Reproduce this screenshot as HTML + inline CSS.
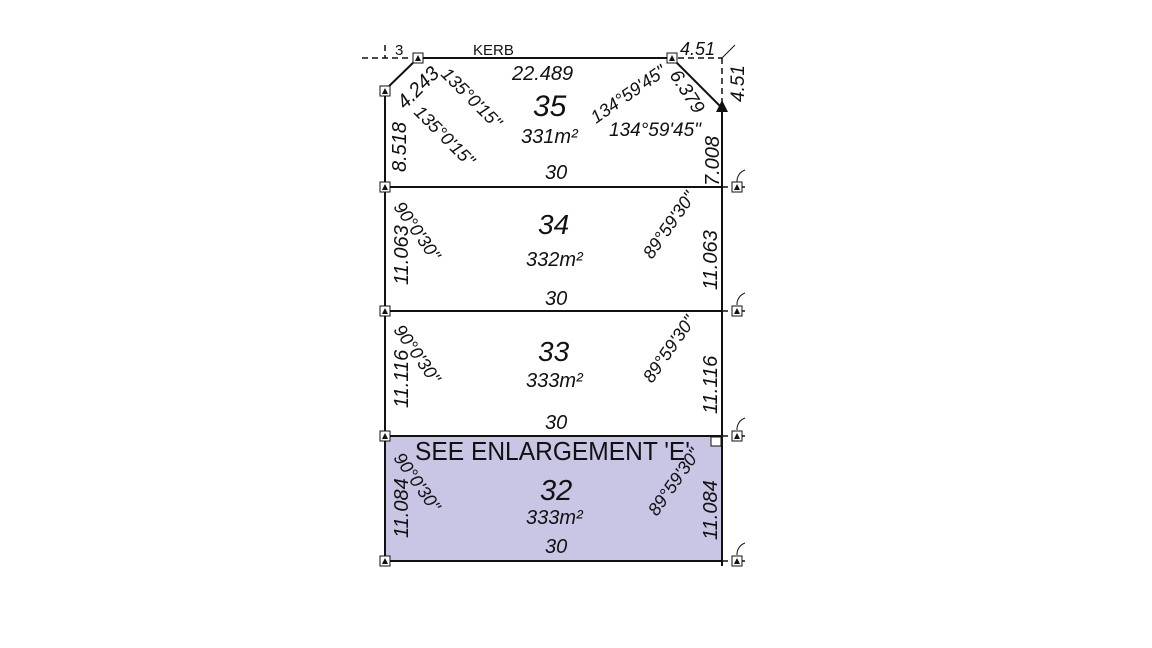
<!DOCTYPE html>
<html><head><meta charset="utf-8"><style>
body{margin:0;background:#fff}
svg{display:block}
text{font-family:"Liberation Sans",Arial,sans-serif;fill:#111}
.i{font-style:italic}
</style></head><body>
<svg width="1152" height="648" viewBox="0 0 1152 648" xmlns="http://www.w3.org/2000/svg">
<rect x="385" y="437" width="337" height="124" fill="#c9c5e5"/>
<g stroke="#111" stroke-width="2" fill="none">
<polyline points="418,58 672,58"/>
<polyline points="418,58 385,90 385,561"/>
<polyline points="672,58 722,108 722,566"/>
<line x1="385" y1="187" x2="722" y2="187"/>
<line x1="385" y1="311" x2="722" y2="311"/>
<line x1="385" y1="436" x2="722" y2="436"/>
<line x1="385" y1="561" x2="722" y2="561"/>
</g>
<g stroke="#111" stroke-width="1.5" stroke-dasharray="6,4" fill="none">
<line x1="362" y1="58" x2="412" y2="58"/>
<line x1="678" y1="58" x2="722" y2="58"/>
<line x1="722" y1="58" x2="722" y2="108"/>
<line x1="722" y1="187" x2="745" y2="187"/>
<line x1="722" y1="311" x2="745" y2="311"/>
<line x1="722" y1="436" x2="745" y2="436"/>
<line x1="722" y1="561" x2="745" y2="561"/>
<line x1="385" y1="45" x2="385" y2="58"/>
</g>
<line x1="722" y1="58" x2="735" y2="45" stroke="#111" stroke-width="1"/>
<polygon points="722,100 716,112 728,112" fill="#111"/>
<g fill="#fff" stroke="#111" stroke-width="1">
<rect x="413" y="53" width="10" height="10"/>
<rect x="667" y="53" width="10" height="10"/>
<rect x="380" y="86" width="10" height="10"/>
<rect x="380" y="182" width="10" height="10"/>
<rect x="380" y="306" width="10" height="10"/>
<rect x="380" y="431" width="10" height="10"/>
<rect x="380" y="556" width="10" height="10"/>
<rect x="732" y="182" width="10" height="10"/>
<rect x="732" y="306" width="10" height="10"/>
<rect x="732" y="431" width="10" height="10"/>
<rect x="732" y="556" width="10" height="10"/>
<rect x="711" y="437" width="10" height="9"/>
</g>
<g fill="#111">
<polygon points="418,55 415,61 421,61"/><polygon points="672,55 669,61 675,61"/>
<polygon points="385,88 382,94 388,94"/><polygon points="385,184 382,190 388,190"/>
<polygon points="385,308 382,314 388,314"/><polygon points="385,433 382,439 388,439"/>
<polygon points="385,558 382,564 388,564"/><polygon points="737,184 734,190 740,190"/>
<polygon points="737,308 734,314 740,314"/><polygon points="737,433 734,439 740,439"/>
<polygon points="737,558 734,564 740,564"/>
</g>
<g stroke="#111" stroke-width="1" fill="none">
<path d="M745,170 a12,12 0 0 0 -8,12"/><path d="M745,293 a12,12 0 0 0 -8,12"/>
<path d="M745,418 a12,12 0 0 0 -8,12"/><path d="M745,543 a12,12 0 0 0 -8,12"/>
</g>
<text x="473" y="55" font-size="15">KERB</text>
<text x="395" y="55" font-size="15">3</text>
<text x="680" y="55" font-size="18" class="i">4.51</text>
<text x="744" y="102" font-size="19" class="i" transform="rotate(-90 744 102)">4.51</text>
<text x="512" y="80" font-size="20" class="i">22.489</text>
<text x="533" y="116" font-size="30" class="i">35</text>
<text x="521" y="143" font-size="20" class="i">331m²</text>
<text x="545" y="179" font-size="20" class="i">30</text>
<text x="405" y="110" font-size="20" class="i" transform="rotate(-45 405 110)">4.243</text>
<text x="440" y="75" font-size="18" class="i" transform="rotate(45 440 75)">135°0'15"</text>
<text x="413" y="113" font-size="18" class="i" transform="rotate(45 413 113)">135°0'15"</text>
<text x="406" y="172" font-size="20" class="i" transform="rotate(-90 406 172)">8.518</text>
<text x="596" y="124" font-size="18" class="i" transform="rotate(-35 596 124)">134°59'45"</text>
<text x="609" y="136" font-size="19" class="i">134°59'45"</text>
<text x="669" y="75" font-size="19" class="i" transform="rotate(57 669 75)">6.379</text>
<text x="719" y="186" font-size="20" class="i" transform="rotate(-90 719 186)">7.008</text>
<text x="538" y="234" font-size="28" class="i">34</text>
<text x="526" y="266" font-size="20" class="i">332m²</text>
<text x="545" y="305" font-size="20" class="i">30</text>
<text x="393" y="207" font-size="18" class="i" transform="rotate(55 393 207)">90°0'30"</text>
<text x="652" y="260" font-size="18" class="i" transform="rotate(-55 652 260)">89°59'30"</text>
<text x="408" y="285" font-size="20" class="i" transform="rotate(-90 408 285)">11.063</text>
<text x="717" y="290" font-size="20" class="i" transform="rotate(-90 717 290)">11.063</text>
<text x="538" y="361" font-size="28" class="i">33</text>
<text x="526" y="387" font-size="20" class="i">333m²</text>
<text x="545" y="429" font-size="20" class="i">30</text>
<text x="393" y="330" font-size="18" class="i" transform="rotate(55 393 330)">90°0'30"</text>
<text x="652" y="384" font-size="18" class="i" transform="rotate(-55 652 384)">89°59'30"</text>
<text x="408" y="408" font-size="20" class="i" transform="rotate(-90 408 408)">11.116</text>
<text x="717" y="414" font-size="20" class="i" transform="rotate(-90 717 414)">11.116</text>
<text x="415" y="460" font-size="26" textLength="275" lengthAdjust="spacingAndGlyphs">SEE ENLARGEMENT 'E'</text>
<text x="540" y="500" font-size="29" class="i">32</text>
<text x="526" y="524" font-size="20" class="i">333m²</text>
<text x="545" y="553" font-size="20" class="i">30</text>
<text x="393" y="458" font-size="18" class="i" transform="rotate(55 393 458)">90°0'30"</text>
<text x="657" y="517" font-size="18" class="i" transform="rotate(-55 657 517)">89°59'30"</text>
<text x="408" y="538" font-size="20" class="i" transform="rotate(-90 408 538)">11.084</text>
<text x="717" y="540" font-size="20" class="i" transform="rotate(-90 717 540)">11.084</text>
</svg>
</body></html>
